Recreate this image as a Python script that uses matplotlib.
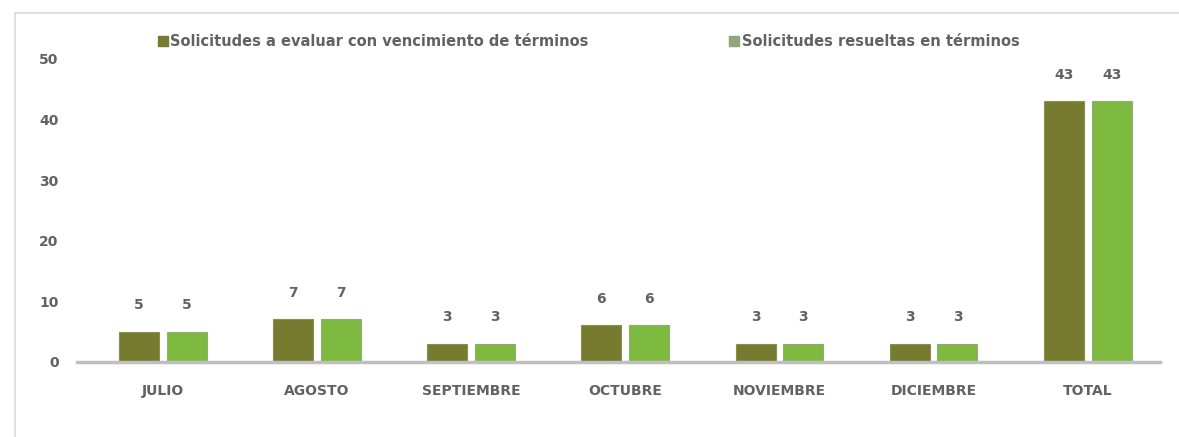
import numpy as np
import matplotlib.pyplot as plt
from matplotlib.lines import Line2D

plt.rcParams['font.family'] = ['DejaVu Sans']

meses = ["JULIO", "AGOSTO", "SEPTIEMBRE", "OCTUBRE", "NOVIEMBRE", "DICIEMBRE", "TOTAL"]
evaluar = [5, 7, 3, 6, 3, 3, 43]
resueltas = [5, 7, 3, 6, 3, 3, 43]
series = ["Solicitudes a evaluar con vencimiento de términos",
          "Solicitudes resueltas en términos"]

oscuro = "#767B2F"
claro = "#7DBA3F"
gris = "#626262"

fig = plt.figure(figsize=(11.79, 4.37), dpi=100)
ax = fig.add_axes([0.065, 0.172, 0.919, 0.693])

x = np.arange(len(meses))
w = 0.26
b1 = ax.bar(x - 0.155, evaluar, w, color=oscuro, edgecolor="#8A8F50", linewidth=0.8)
b2 = ax.bar(x + 0.155, resueltas, w, color=claro, edgecolor="#93AA7A", linewidth=0.8)

for bars in (b1, b2):
    for r in bars:
        ax.annotate(f"{r.get_height():g}", (r.get_x() + r.get_width() / 2, r.get_height()),
                    xytext=(0, 14), textcoords="offset points", ha="center", va="bottom",
                    fontsize=10, fontweight="bold", color=gris)

ax.set_xlim(-0.56, 6.47)
ax.set_ylim(0, 50)
ax.set_yticks([0, 10, 20, 30, 40, 50])
ax.set_xticks(x)
ax.set_xticklabels(meses)
ax.tick_params(axis="x", length=0, pad=16, labelsize=10, labelcolor=gris)
ax.tick_params(axis="y", length=0, pad=13, labelsize=10, labelcolor=gris)
for t in ax.get_xticklabels() + ax.get_yticklabels():
    t.set_fontweight("bold")

for s in ("top", "right", "left"):
    ax.spines[s].set_visible(False)
ax.spines["bottom"].set_color("#BFBFBF")
ax.spines["bottom"].set_linewidth(2.5)

handles = [Line2D([], [], marker="s", linestyle="none", markersize=7, color=oscuro),
           Line2D([], [], marker="s", linestyle="none", markersize=7, color="#8FA67F")]
leg = fig.legend(handles, series, loc="center left", bbox_to_anchor=(0.122, 0.905), ncol=2,
                 frameon=False, fontsize=10.5, columnspacing=9.6, handletextpad=0.1,
                 handlelength=0.8)
for t in leg.get_texts():
    t.set_color(gris)
    t.set_fontweight("bold")

# marco del gráfico
fig.add_artist(Line2D([0.0127, 1.0], [0.970, 0.970], color="#D9D9D9", linewidth=1.2,
                      transform=fig.transFigure))
fig.add_artist(Line2D([0.0127, 0.0127], [0.0, 0.970], color="#D9D9D9", linewidth=1.2,
                      transform=fig.transFigure))

fig.savefig("out.png", dpi=100)
